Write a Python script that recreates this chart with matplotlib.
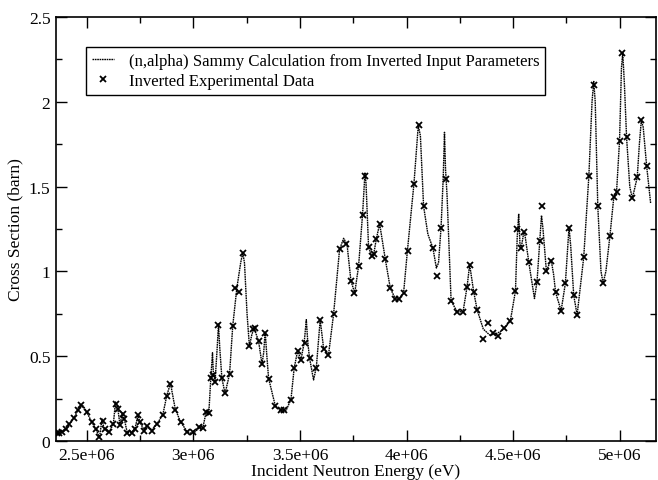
import matplotlib
matplotlib.use("Agg")
import matplotlib.pyplot as plt
from matplotlib.ticker import MultipleLocator, FuncFormatter

plt.rcParams['font.family'] = ['Liberation Serif', 'DejaVu Serif']

# SAMMY calculated curve (energy in MeV-scale, converted to eV below)
curve_e = [2.356, 2.375, 2.385, 2.403, 2.418, 2.440, 2.458, 2.475, 2.485, 2.500, 2.523, 2.544,
           2.560, 2.572, 2.580, 2.586, 2.606, 2.625, 2.635, 2.645, 2.656, 2.667, 2.678, 2.690,
           2.711, 2.727, 2.740, 2.752, 2.769, 2.785, 2.805, 2.829, 2.857, 2.876, 2.893, 2.915,
           2.941, 2.972, 2.990, 3.005, 3.029, 3.045, 3.060, 3.073, 3.082, 3.090, 3.094, 3.102,
           3.112, 3.118, 3.124, 3.134, 3.149, 3.170, 3.185, 3.204, 3.222, 3.232, 3.240, 3.252,
           3.263, 3.275, 3.285, 3.306, 3.322, 3.330, 3.337, 3.345, 3.353, 3.384, 3.415, 3.435,
           3.458, 3.473, 3.489, 3.505, 3.520, 3.530, 3.537, 3.545, 3.564, 3.577, 3.595, 3.611,
           3.634, 3.658, 3.686, 3.705, 3.721, 3.739, 3.757, 3.775, 3.794, 3.805, 3.810, 3.822,
           3.838, 3.846, 3.858, 3.874, 3.900, 3.924, 3.947, 3.960, 3.986, 4.004, 4.035, 4.055,
           4.065, 4.080, 4.100, 4.124, 4.140, 4.150, 4.162, 4.172, 4.178, 4.183, 4.190, 4.209,
           4.237, 4.265, 4.284, 4.296, 4.315, 4.331, 4.360, 4.390, 4.415, 4.440, 4.459, 4.487,
           4.511, 4.519, 4.526, 4.532, 4.538, 4.550, 4.556, 4.573, 4.600, 4.612, 4.625, 4.633,
           4.640, 4.656, 4.665, 4.678, 4.690, 4.699, 4.725, 4.745, 4.762, 4.770, 4.784, 4.800,
           4.831, 4.855, 4.870, 4.878, 4.885, 4.897, 4.912, 4.922, 4.935, 4.954, 4.972, 4.985,
           4.999, 5.008, 5.014, 5.022, 5.032, 5.047, 5.059, 5.082, 5.092, 5.101, 5.110, 5.126,
           5.145]
curve_xs = [0.045, 0.050, 0.055, 0.070, 0.098, 0.135, 0.180, 0.210, 0.205, 0.170, 0.114, 0.068,
            0.020, 0.130, 0.080, 0.070, 0.055, 0.100, 0.230, 0.200, 0.095, 0.165, 0.120, 0.050,
            0.050, 0.075, 0.150, 0.105, 0.065, 0.090, 0.065, 0.100, 0.155, 0.270, 0.340, 0.190,
            0.110, 0.055, 0.045, 0.050, 0.080, 0.080, 0.170, 0.170, 0.370, 0.520, 0.400, 0.350,
            0.550, 0.690, 0.550, 0.370, 0.280, 0.395, 0.680, 0.900, 1.050, 1.110, 1.050, 0.750,
            0.560, 0.630, 0.665, 0.590, 0.454, 0.520, 0.645, 0.500, 0.370, 0.210, 0.168, 0.180,
            0.245, 0.430, 0.530, 0.480, 0.580, 0.715, 0.580, 0.490, 0.360, 0.435, 0.715, 0.547,
            0.507, 0.750, 1.130, 1.195, 1.160, 0.945, 0.873, 1.030, 1.340, 1.580, 1.520, 1.140,
            1.090, 1.100, 1.190, 1.280, 1.075, 0.900, 0.840, 0.835, 0.870, 1.120, 1.520, 1.860,
            1.800, 1.384, 1.220, 1.136, 1.020, 1.050, 1.260, 1.550, 1.820, 1.600, 1.450, 0.827,
            0.762, 0.762, 0.910, 1.040, 0.880, 0.774, 0.660, 0.625, 0.630, 0.645, 0.664, 0.709,
            0.886, 1.200, 1.340, 1.160, 1.140, 1.230, 1.210, 1.057, 0.840, 0.940, 1.180, 1.330,
            1.250, 1.000, 1.030, 1.070, 0.980, 0.877, 0.768, 0.930, 1.260, 1.150, 0.860, 0.743,
            1.083, 1.560, 2.000, 2.120, 2.000, 1.384, 1.000, 0.930, 1.000, 1.210, 1.437, 1.470,
            1.770, 2.200, 2.290, 2.100, 1.790, 1.500, 1.430, 1.555, 1.750, 1.890, 1.850, 1.623,
            1.400]

# Inverted experimental data points
data_e = [2.360, 2.372, 2.385, 2.403, 2.418, 2.440, 2.458, 2.472, 2.500, 2.523, 2.544, 2.559,
          2.575, 2.586, 2.606, 2.625, 2.638, 2.648, 2.656, 2.669, 2.675, 2.690, 2.711, 2.727,
          2.740, 2.750, 2.769, 2.785, 2.805, 2.829, 2.857, 2.876, 2.891, 2.915, 2.941, 2.972,
          2.998, 3.029, 3.045, 3.060, 3.073, 3.082, 3.090, 3.102, 3.118, 3.134, 3.149, 3.170,
          3.185, 3.196, 3.212, 3.232, 3.263, 3.282, 3.290, 3.306, 3.322, 3.337, 3.353, 3.384,
          3.410, 3.423, 3.458, 3.473, 3.489, 3.505, 3.525, 3.545, 3.577, 3.595, 3.611, 3.634,
          3.658, 3.689, 3.717, 3.739, 3.755, 3.775, 3.794, 3.807, 3.822, 3.838, 3.846, 3.858,
          3.874, 3.900, 3.924, 3.947, 3.963, 3.986, 4.005, 4.033, 4.057, 4.080, 4.124, 4.143,
          4.163, 4.187, 4.209, 4.237, 4.265, 4.284, 4.296, 4.315, 4.331, 4.359, 4.381, 4.406,
          4.428, 4.459, 4.487, 4.511, 4.519, 4.538, 4.553, 4.573, 4.612, 4.625, 4.637, 4.656,
          4.678, 4.699, 4.725, 4.745, 4.762, 4.784, 4.800, 4.831, 4.855, 4.878, 4.897, 4.922,
          4.954, 4.972, 4.985, 4.999, 5.012, 5.032, 5.059, 5.082, 5.101, 5.126]
data_xs = [0.045, 0.050, 0.055, 0.070, 0.100, 0.134, 0.180, 0.215, 0.170, 0.114, 0.070, 0.022,
           0.120, 0.070, 0.055, 0.100, 0.220, 0.190, 0.096, 0.160, 0.130, 0.050, 0.050, 0.070,
           0.155, 0.110, 0.060, 0.090, 0.060, 0.100, 0.155, 0.265, 0.336, 0.185, 0.110, 0.055,
           0.052, 0.080, 0.075, 0.170, 0.165, 0.372, 0.390, 0.348, 0.684, 0.370, 0.282, 0.395,
           0.678, 0.900, 0.880, 1.110, 0.560, 0.660, 0.665, 0.588, 0.454, 0.638, 0.368, 0.208,
           0.180, 0.180, 0.243, 0.432, 0.530, 0.480, 0.580, 0.490, 0.433, 0.712, 0.545, 0.507,
           0.750, 1.130, 1.160, 0.945, 0.875, 1.030, 1.335, 1.562, 1.145, 1.090, 1.100, 1.190,
           1.278, 1.075, 0.900, 0.838, 0.840, 0.870, 1.120, 1.517, 1.862, 1.384, 1.136, 0.970,
           1.255, 1.545, 0.827, 0.762, 0.762, 0.908, 1.040, 0.878, 0.774, 0.600, 0.696, 0.637,
           0.617, 0.664, 0.709, 0.886, 1.250, 1.140, 1.230, 1.057, 0.940, 1.180, 1.387, 1.000,
           1.063, 0.877, 0.768, 0.930, 1.257, 0.860, 0.743, 1.083, 1.560, 2.100, 1.384, 0.930,
           1.210, 1.437, 1.470, 1.770, 2.290, 1.790, 1.430, 1.555, 1.890, 1.623]

line_label = "(n,alpha) Sammy Calculation from Inverted Input Parameters"
data_label = "Inverted Experimental Data"
x_label = "Incident Neutron Energy (eV)"
y_label = "Cross Section (barn)"

fig = plt.figure(figsize=(6.58, 4.81), dpi=100)
ax = fig.add_axes([56 / 658, 39 / 481, 600 / 658, 424 / 481])

ax.plot([e * 1e6 for e in curve_e], curve_xs, color='black', lw=1.0,
        linestyle=(0, (1.2, 0.5)), label=line_label)
ax.plot([e * 1e6 for e in data_e], data_xs, linestyle='none', marker='x',
        ms=4.5, mew=1.3, color='black', label=data_label)

ax.set_xlim(2.356e6, 5.17e6)
ax.set_ylim(0, 2.5)
ax.xaxis.set_major_locator(MultipleLocator(0.5e6))
ax.xaxis.set_minor_locator(MultipleLocator(0.25e6))
ax.yaxis.set_major_locator(MultipleLocator(0.5))
ax.yaxis.set_minor_locator(MultipleLocator(0.25))
fmt = FuncFormatter(lambda v, p: '%g' % v)
ax.xaxis.set_major_formatter(fmt)
ax.yaxis.set_major_formatter(fmt)
ax.tick_params(which='both', direction='in', top=True, right=True,
               labelsize=12.5, width=1.0, pad=4)
ax.tick_params(which='major', length=8)
ax.tick_params(which='minor', length=4.5)
for s in ax.spines.values():
    s.set_linewidth(1.2)

ax.set_xlabel(x_label, fontsize=12.5, labelpad=0)
ax.set_ylabel(y_label, fontsize=12.5, labelpad=4)

leg = ax.legend(loc='upper left', bbox_to_anchor=(0.05, 0.93), fontsize=12.1,
                frameon=True, fancybox=False, edgecolor='black', framealpha=1,
                handlelength=1.3, handletextpad=0.9, borderpad=0.35,
                labelspacing=0.25, borderaxespad=0)
leg.get_frame().set_linewidth(1.0)

fig.savefig('out.png', dpi=100)
